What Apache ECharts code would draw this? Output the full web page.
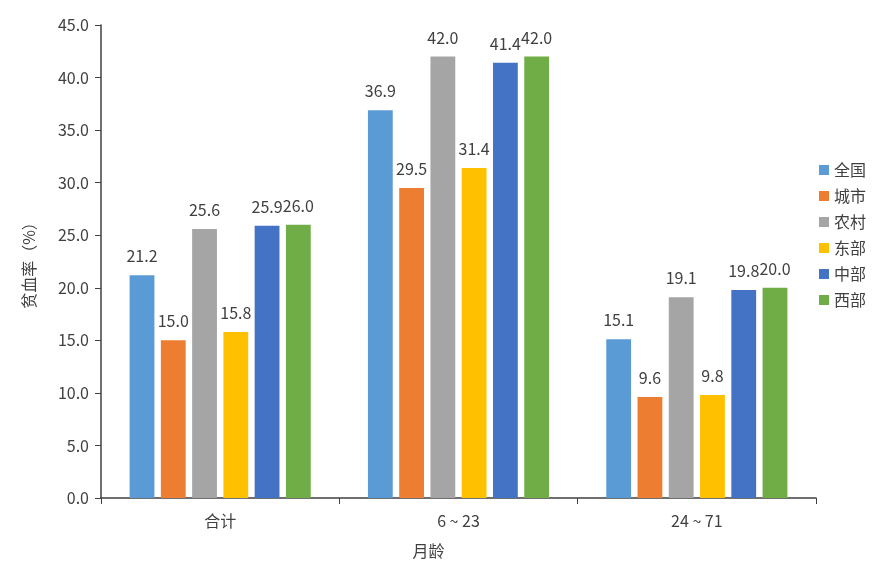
<!DOCTYPE html>
<html><head><meta charset="utf-8">
<script src="https://cdn.jsdelivr.net/npm/echarts@6/dist/echarts.min.js"></script>
<style>html,body{margin:0;padding:0;background:#fff}#c{width:895px;height:572px}</style>
</head><body><div id="c"></div>
<script>
const categories = ['合计', '6 ~ 23', '24 ~ 71'];
const seriesNames = ['全国', '城市', '农村', '东部', '中部', '西部'];
const quanguo = [21.2, 36.9, 15.1];
const chengshi = [15.0, 29.5, 9.6];
const nongcun = [25.6, 42.0, 19.1];
const dongbu = [15.8, 31.4, 9.8];
const zhongbu = [25.9, 41.4, 19.8];
const xibu = [26.0, 42.0, 20.0];
const colors = ['#5B9BD5', '#ED7D31', '#A5A5A5', '#FFC000', '#4472C4', '#70AD47'];
const values = [quanguo, chengshi, nongcun, dongbu, zhongbu, xibu];
const font = '"Noto Sans CJK SC", "Liberation Sans", sans-serif';

const chart = echarts.init(document.getElementById('c'));
chart.setOption({
  animation: false,
  textStyle: { fontFamily: font },
  grid: { left: 101, right: 79, top: 25, bottom: 74, containLabel: false },
  legend: {
    orient: 'vertical', left: 814, top: 157,
    itemWidth: 10, itemHeight: 10, itemGap: 10,
    icon: 'rect',
    textStyle: { fontSize: 16, color: '#404040', fontFamily: font },
    data: seriesNames
  },
  xAxis: {
    type: 'category', data: categories,
    name: '月龄', nameLocation: 'middle', nameGap: 45,
    nameTextStyle: { fontSize: 16, color: '#404040', padding: [0, 60, 0, 0] },
    axisLine: { lineStyle: { color: '#404040', width: 1.5 } },
    axisTick: { show: true, length: 6, lineStyle: { color: '#404040' } },
    axisLabel: { fontSize: 16, color: '#404040', margin: 15 }
  },
  yAxis: {
    type: 'value', min: 0, max: 45, interval: 5,
    name: '贫血率（%）', nameLocation: 'middle', nameGap: 64, nameRotate: 90,
    nameTextStyle: { fontSize: 16, color: '#404040' },
    splitLine: { show: false },
    axisLine: { show: true, lineStyle: { color: '#404040', width: 1.5 } },
    axisTick: { show: true, length: 6, lineStyle: { color: '#404040' } },
    axisLabel: { fontSize: 16, color: '#404040', margin: 12, formatter: v => v.toFixed(1) }
  },
  series: seriesNames.map((n, i) => ({
    name: n, type: 'bar', data: values[i],
    barGap: '26%', barCategoryGap: '24%',
    itemStyle: { color: colors[i] },
    label: { show: true, position: 'top', distance: 11, fontSize: 16, color: '#404040', formatter: p => p.value.toFixed(1) }
  }))
});
</script></body></html>
